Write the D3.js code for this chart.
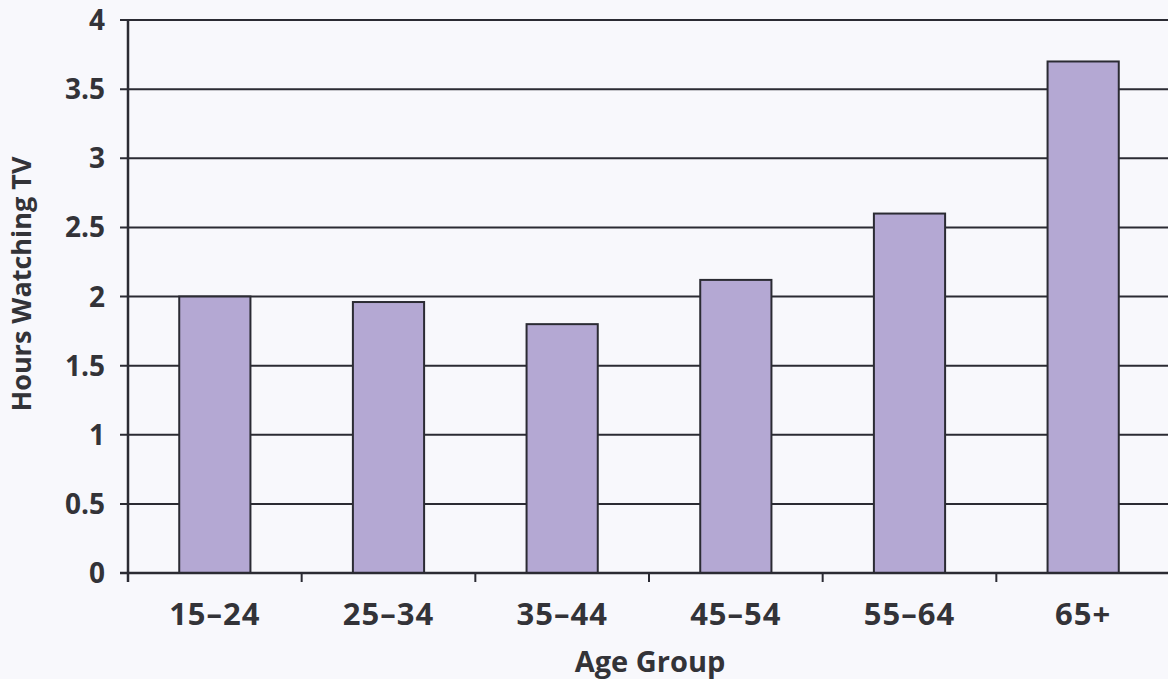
<!DOCTYPE html>
<html>
<head>
<meta charset="utf-8">
<script src="https://cdn.jsdelivr.net/npm/d3@7"></script>
<style>
    body { margin: 0; background: #f8f8fc; }
    text { font-family: "Open Sans", "Noto Sans", sans-serif; fill: #333338; }
</style>
</head>
<body>
<svg id="chart" width="1168" height="679"></svg>
<script>
/* Hours watching TV by age group */

const ageGroups = ["15\u201324", "25\u201334", "35\u201344", "45\u201354", "55\u201364", "65+"];
const hours = [2.0, 1.96, 1.8, 2.12, 2.6, 3.7];
const yTicks = [0, 0.5, 1, 1.5, 2, 2.5, 3, 3.5, 4];

const svg = d3.select("#chart");
const margin = { top: 20, right: -2, bottom: 106, left: 128 };
const width = 1168 - margin.left - margin.right;
const height = 679 - margin.top - margin.bottom;

const g = svg.append("g").attr("transform", `translate(${margin.left},${margin.top})`);

const x = d3.scaleBand().domain(ageGroups).range([0, width]).paddingInner(0.59).paddingOuter(0.295);
const y = d3.scaleLinear().domain([0, 4]).range([height, 0]);

// gridlines
g.append("g")
    .selectAll("line")
    .data(yTicks)
    .join("line")
    .attr("x1", -8)
    .attr("x2", width)
    .attr("y1", d => y(d))
    .attr("y2", d => y(d))
    .attr("stroke", "#2b2b33")
    .attr("stroke-width", 2);

// y labels
g.append("g")
    .selectAll("text")
    .data(yTicks)
    .join("text")
    .attr("x", -23)
    .attr("y", d => y(d))
    .attr("dy", "0.36em")
    .attr("text-anchor", "end")
    .attr("font-size", 28)
    .attr("font-weight", 700)
    .text(d => d);

// bars
g.append("g")
    .selectAll("rect")
    .data(hours)
    .join("rect")
    .attr("x", (d, i) => x(ageGroups[i]))
    .attr("y", d => y(d))
    .attr("width", x.bandwidth())
    .attr("height", d => height - y(d))
    .attr("fill", "#b4a8d3")
    .attr("stroke", "#2b2b33")
    .attr("stroke-width", 2);

// axes lines
g.append("line")
    .attr("x1", 0).attr("x2", 0)
    .attr("y1", 0).attr("y2", height + 9)
    .attr("stroke", "#2b2b33")
    .attr("stroke-width", 2.5);

g.append("line")
    .attr("x1", -8).attr("x2", width)
    .attr("y1", height).attr("y2", height)
    .attr("stroke", "#2b2b33")
    .attr("stroke-width", 2.5);

// x ticks between bands
const step = x.step();
g.append("g")
    .selectAll("line")
    .data(ageGroups)
    .join("line")
    .attr("x1", (d, i) => (i + 1) * step)
    .attr("x2", (d, i) => (i + 1) * step)
    .attr("y1", height)
    .attr("y2", height + 9)
    .attr("stroke", "#2b2b33")
    .attr("stroke-width", 2);

// x labels
g.append("g")
    .selectAll("text")
    .data(ageGroups)
    .join("text")
    .attr("x", d => x(d) + x.bandwidth() / 2)
    .attr("y", height + 52)
    .attr("text-anchor", "middle")
    .attr("font-size", 31)
    .attr("font-weight", 700)
    .attr("letter-spacing", 1)
    .text(d => d);

// axis titles
svg.append("text")
    .attr("x", 650)
    .attr("y", 672)
    .attr("text-anchor", "middle")
    .attr("font-size", 29)
    .attr("font-weight", 700)
    .text("Age Group");

svg.append("text")
    .attr("transform", "translate(31,284) rotate(-90)")
    .attr("text-anchor", "middle")
    .attr("font-size", 27)
    .attr("font-weight", 700)
    .text("Hours Watching TV");
</script>
</body>
</html>
